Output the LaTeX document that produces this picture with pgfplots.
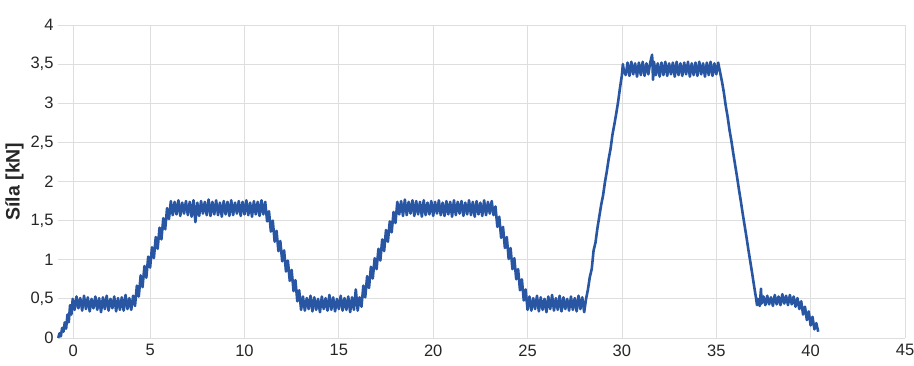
\documentclass[border=0pt]{standalone}
\usepackage{pgfplots}
\pgfplotsset{compat=1.18}
\usepackage{fontspec}
\setmainfont{Liberation Sans}
\definecolor{lineblue}{HTML}{2856A3}
\definecolor{gridgray}{HTML}{DEDEDE}
\begin{document}
\begin{tikzpicture}
\useasboundingbox (0,0) rectangle (914pt,365pt);
\begin{axis}[
  at={(58pt,27pt)}, anchor=south west,
  scale only axis, width=847pt, height=313pt,
  xmin=0.12, xmax=45, ymin=0, ymax=4,
  xtick={0.92,5,10,15,20,25,30,35,40,45},
  xticklabels={0,5,10,15,20,25,30,35,40,45},
  ytick={0,0.5,1,1.5,2,2.5,3,3.5,4},
  yticklabels={0,{0,5},1,{1,5},2,{2,5},3,{3,5},4},
  grid=major, major grid style={gridgray, line width=0.8pt},
  axis line style={draw=none},
  major tick length=0pt,
  tick label style={font=\fontsize{16.5}{19}\selectfont, text=black!85},
  xticklabel style={yshift=-3pt},
  yticklabel style={xshift=-1pt},
  ylabel={Síla [kN]},
  ylabel style={font=\fontsize{19.5}{22}\selectfont\bfseries, text=black!85, yshift=0pt},
  /pgf/number format/assume math mode=true,
  clip=false,
]
\addplot[color=lineblue, line width=2.6pt, line join=round, mark=none] coordinates {
(0.13,0.00) (0.2,0.06) (0.27,0.02) (0.34,0.13) (0.41,0.08) (0.48,0.2) (0.55,0.12) (0.62,0.3) (0.69,0.2) (0.76,0.42) (0.83,0.3) (0.9,0.50)
(1.0,0.36) (1.1,0.53) (1.2,0.38) (1.3,0.51) (1.4,0.35) (1.5,0.54) (1.6,0.37) (1.7,0.52) (1.8,0.34) (1.9,0.50)
(2.0,0.38) (2.1,0.53) (2.2,0.36) (2.3,0.51) (2.4,0.33) (2.5,0.52) (2.6,0.37) (2.7,0.54) (2.8,0.35) (2.9,0.50)
(3.0,0.38) (3.1,0.53) (3.2,0.34) (3.3,0.51) (3.4,0.36) (3.5,0.52) (3.6,0.35) (3.7,0.55) (3.8,0.37) (3.9,0.51)
(4.0,0.36) (4.1,0.54)
(4.2,0.41) (4.3,0.67) (4.4,0.53) (4.5,0.80) (4.6,0.65) (4.7,0.92) (4.8,0.77) (4.9,1.04) (5.0,0.90) (5.1,1.16)
(5.2,1.02) (5.3,1.29) (5.4,1.14) (5.5,1.41) (5.6,1.26) (5.7,1.53) (5.8,1.39) (5.9,1.66) (6.0,1.52) (6.1,1.75)
(6.2,1.57) (6.3,1.74) (6.4,1.58) (6.5,1.76) (6.6,1.56) (6.7,1.73) (6.8,1.59) (6.9,1.75) (7.0,1.57) (7.1,1.74)
(7.2,1.55) (7.3,1.76) (7.4,1.48) (7.5,1.73) (7.6,1.56) (7.7,1.75) (7.8,1.59) (7.9,1.74) (8.0,1.57) (8.1,1.77)
(8.2,1.56) (8.3,1.74) (8.4,1.58) (8.5,1.76) (8.6,1.57) (8.7,1.73) (8.8,1.55) (8.9,1.75) (9.0,1.58) (9.1,1.74)
(9.2,1.56) (9.3,1.76) (9.4,1.57) (9.5,1.73) (9.6,1.59) (9.7,1.75) (9.8,1.56) (9.9,1.74) (10.0,1.58) (10.1,1.76)
(10.2,1.57) (10.3,1.73) (10.4,1.55) (10.5,1.75) (10.6,1.58) (10.7,1.74) (10.8,1.56) (10.9,1.76) (11.0,1.58) (11.1,1.74)
(11.2,1.49) (11.3,1.62) (11.4,1.36) (11.5,1.50) (11.6,1.23) (11.7,1.37) (11.8,1.11) (11.9,1.24) (12.0,0.98) (12.1,1.12)
(12.2,0.85) (12.3,0.99) (12.4,0.73) (12.5,0.87) (12.6,0.60) (12.7,0.74) (12.8,0.47) (12.9,0.61) (13.0,0.36)
(13.1,0.53) (13.2,0.35) (13.3,0.51) (13.4,0.37) (13.5,0.54) (13.6,0.34) (13.7,0.52) (13.8,0.36) (13.9,0.50) (14.0,0.33)
(14.1,0.53) (14.2,0.37) (14.3,0.51) (14.4,0.35) (14.5,0.55) (14.6,0.36) (14.7,0.52) (14.8,0.34) (14.9,0.50) (15.0,0.37)
(15.1,0.54) (15.2,0.35) (15.3,0.51) (15.4,0.36) (15.5,0.53) (15.6,0.33) (15.7,0.52) (15.8,0.36) (15.9,0.62) (16.0,0.35) (16.1,0.52)
(16.2,0.40) (16.3,0.67) (16.4,0.52) (16.5,0.79) (16.6,0.64) (16.7,0.91) (16.8,0.76) (16.9,1.02) (17.0,0.88) (17.1,1.14)
(17.2,0.99) (17.3,1.26) (17.4,1.11) (17.5,1.38) (17.6,1.23) (17.7,1.49) (17.8,1.35) (17.9,1.61) (18.0,1.47) (18.1,1.74)
(18.2,1.58) (18.3,1.75) (18.4,1.56) (18.5,1.77) (18.6,1.57) (18.7,1.74) (18.8,1.59) (18.9,1.76) (19.0,1.56) (19.1,1.75)
(19.2,1.58) (19.3,1.74) (19.4,1.55) (19.5,1.76) (19.6,1.57) (19.7,1.73) (19.8,1.58) (19.9,1.75) (20.0,1.56) (20.1,1.74)
(20.2,1.59) (20.3,1.76) (20.4,1.57) (20.5,1.73) (20.6,1.56) (20.7,1.75) (20.8,1.58) (20.9,1.74) (21.0,1.55) (21.1,1.76)
(21.2,1.57) (21.3,1.74) (21.4,1.59) (21.5,1.75) (21.6,1.56) (21.7,1.73) (21.8,1.58) (21.9,1.76) (22.0,1.57) (22.1,1.74)
(22.2,1.55) (22.3,1.75) (22.4,1.58) (22.5,1.73) (22.6,1.56) (22.7,1.76) (22.8,1.57) (22.9,1.74) (23.0,1.59) (23.1,1.75) (23.2,1.57)
(23.3,1.68) (23.4,1.42) (23.5,1.55) (23.6,1.28) (23.7,1.42) (23.8,1.15) (23.9,1.29) (24.0,1.01) (24.1,1.15) (24.2,0.88)
(24.3,1.02) (24.4,0.75) (24.5,0.88) (24.6,0.61) (24.7,0.75) (24.8,0.48) (24.9,0.62) (25.0,0.36)
(25.1,0.53) (25.2,0.35) (25.3,0.51) (25.4,0.37) (25.5,0.54) (25.6,0.34) (25.7,0.52) (25.8,0.36) (25.9,0.50) (26.0,0.33)
(26.1,0.53) (26.2,0.37) (26.3,0.55) (26.4,0.35) (26.5,0.51) (26.6,0.36) (26.7,0.54) (26.8,0.34) (26.9,0.52) (27.0,0.37)
(27.1,0.50) (27.2,0.35) (27.3,0.53) (27.4,0.36) (27.5,0.51) (27.6,0.34) (27.7,0.54) (27.8,0.37) (27.9,0.52) (28.0,0.33)
(28.1,0.50) (28.2,0.62) (28.3,0.78) (28.4,0.88) (28.5,1.12) (28.6,1.22) (28.7,1.40) (28.8,1.55) (28.9,1.70) (29.0,1.82)
(29.1,1.99) (29.2,2.13) (29.3,2.29) (29.4,2.42) (29.5,2.60) (29.6,2.73) (29.7,2.87) (29.8,3.02) (29.9,3.20) (30.0,3.36) (30.05,3.50)
(30.1,3.42) (30.2,3.36) (30.3,3.52) (30.4,3.35) (30.5,3.53) (30.6,3.37) (30.7,3.51) (30.8,3.34) (30.9,3.52) (31.0,3.36)
(31.1,3.53) (31.2,3.35) (31.3,3.51) (31.4,3.37) (31.5,3.52) (31.6,3.62) (31.65,3.30) (31.7,3.53) (31.8,3.36) (31.9,3.51)
(32.0,3.34) (32.1,3.52) (32.2,3.36) (32.3,3.53) (32.4,3.35) (32.5,3.51) (32.6,3.37) (32.7,3.52) (32.8,3.34) (32.9,3.53)
(33.0,3.36) (33.1,3.51) (33.2,3.35) (33.3,3.52) (33.4,3.37) (33.5,3.53) (33.6,3.34) (33.7,3.51) (33.8,3.36) (33.9,3.52)
(34.0,3.35) (34.1,3.53) (34.2,3.37) (34.3,3.51) (34.4,3.34) (34.5,3.52) (34.6,3.36) (34.7,3.53) (34.8,3.35) (34.9,3.51)
(35.0,3.37) (35.1,3.52) (35.2,3.40)
(35.3,3.28) (35.4,3.14) (35.5,2.97) (35.6,2.83) (35.7,2.66) (35.8,2.52) (35.9,2.36) (36.0,2.21) (36.1,2.06) (36.2,1.90)
(36.3,1.75) (36.4,1.59) (36.5,1.44) (36.6,1.29) (36.7,1.13) (36.8,0.98) (36.9,0.83) (37.0,0.67) (37.1,0.52) (37.16,0.42)
(37.2,0.50) (37.3,0.41) (37.37,0.63) (37.4,0.44) (37.5,0.53) (37.6,0.42) (37.7,0.54) (37.8,0.43) (37.9,0.52) (38.0,0.41)
(38.1,0.55) (38.2,0.43) (38.3,0.53) (38.4,0.42) (38.5,0.56) (38.6,0.44) (38.7,0.54) (38.8,0.42) (38.9,0.55) (39.0,0.43)
(39.1,0.53) (39.2,0.40) (39.3,0.51)
(39.4,0.37) (39.5,0.47) (39.6,0.30) (39.7,0.40) (39.8,0.23) (39.9,0.34) (40.0,0.16) (40.1,0.27) (40.2,0.11) (40.3,0.19) (40.4,0.08)
};
\end{axis}
\end{tikzpicture}
\end{document}
